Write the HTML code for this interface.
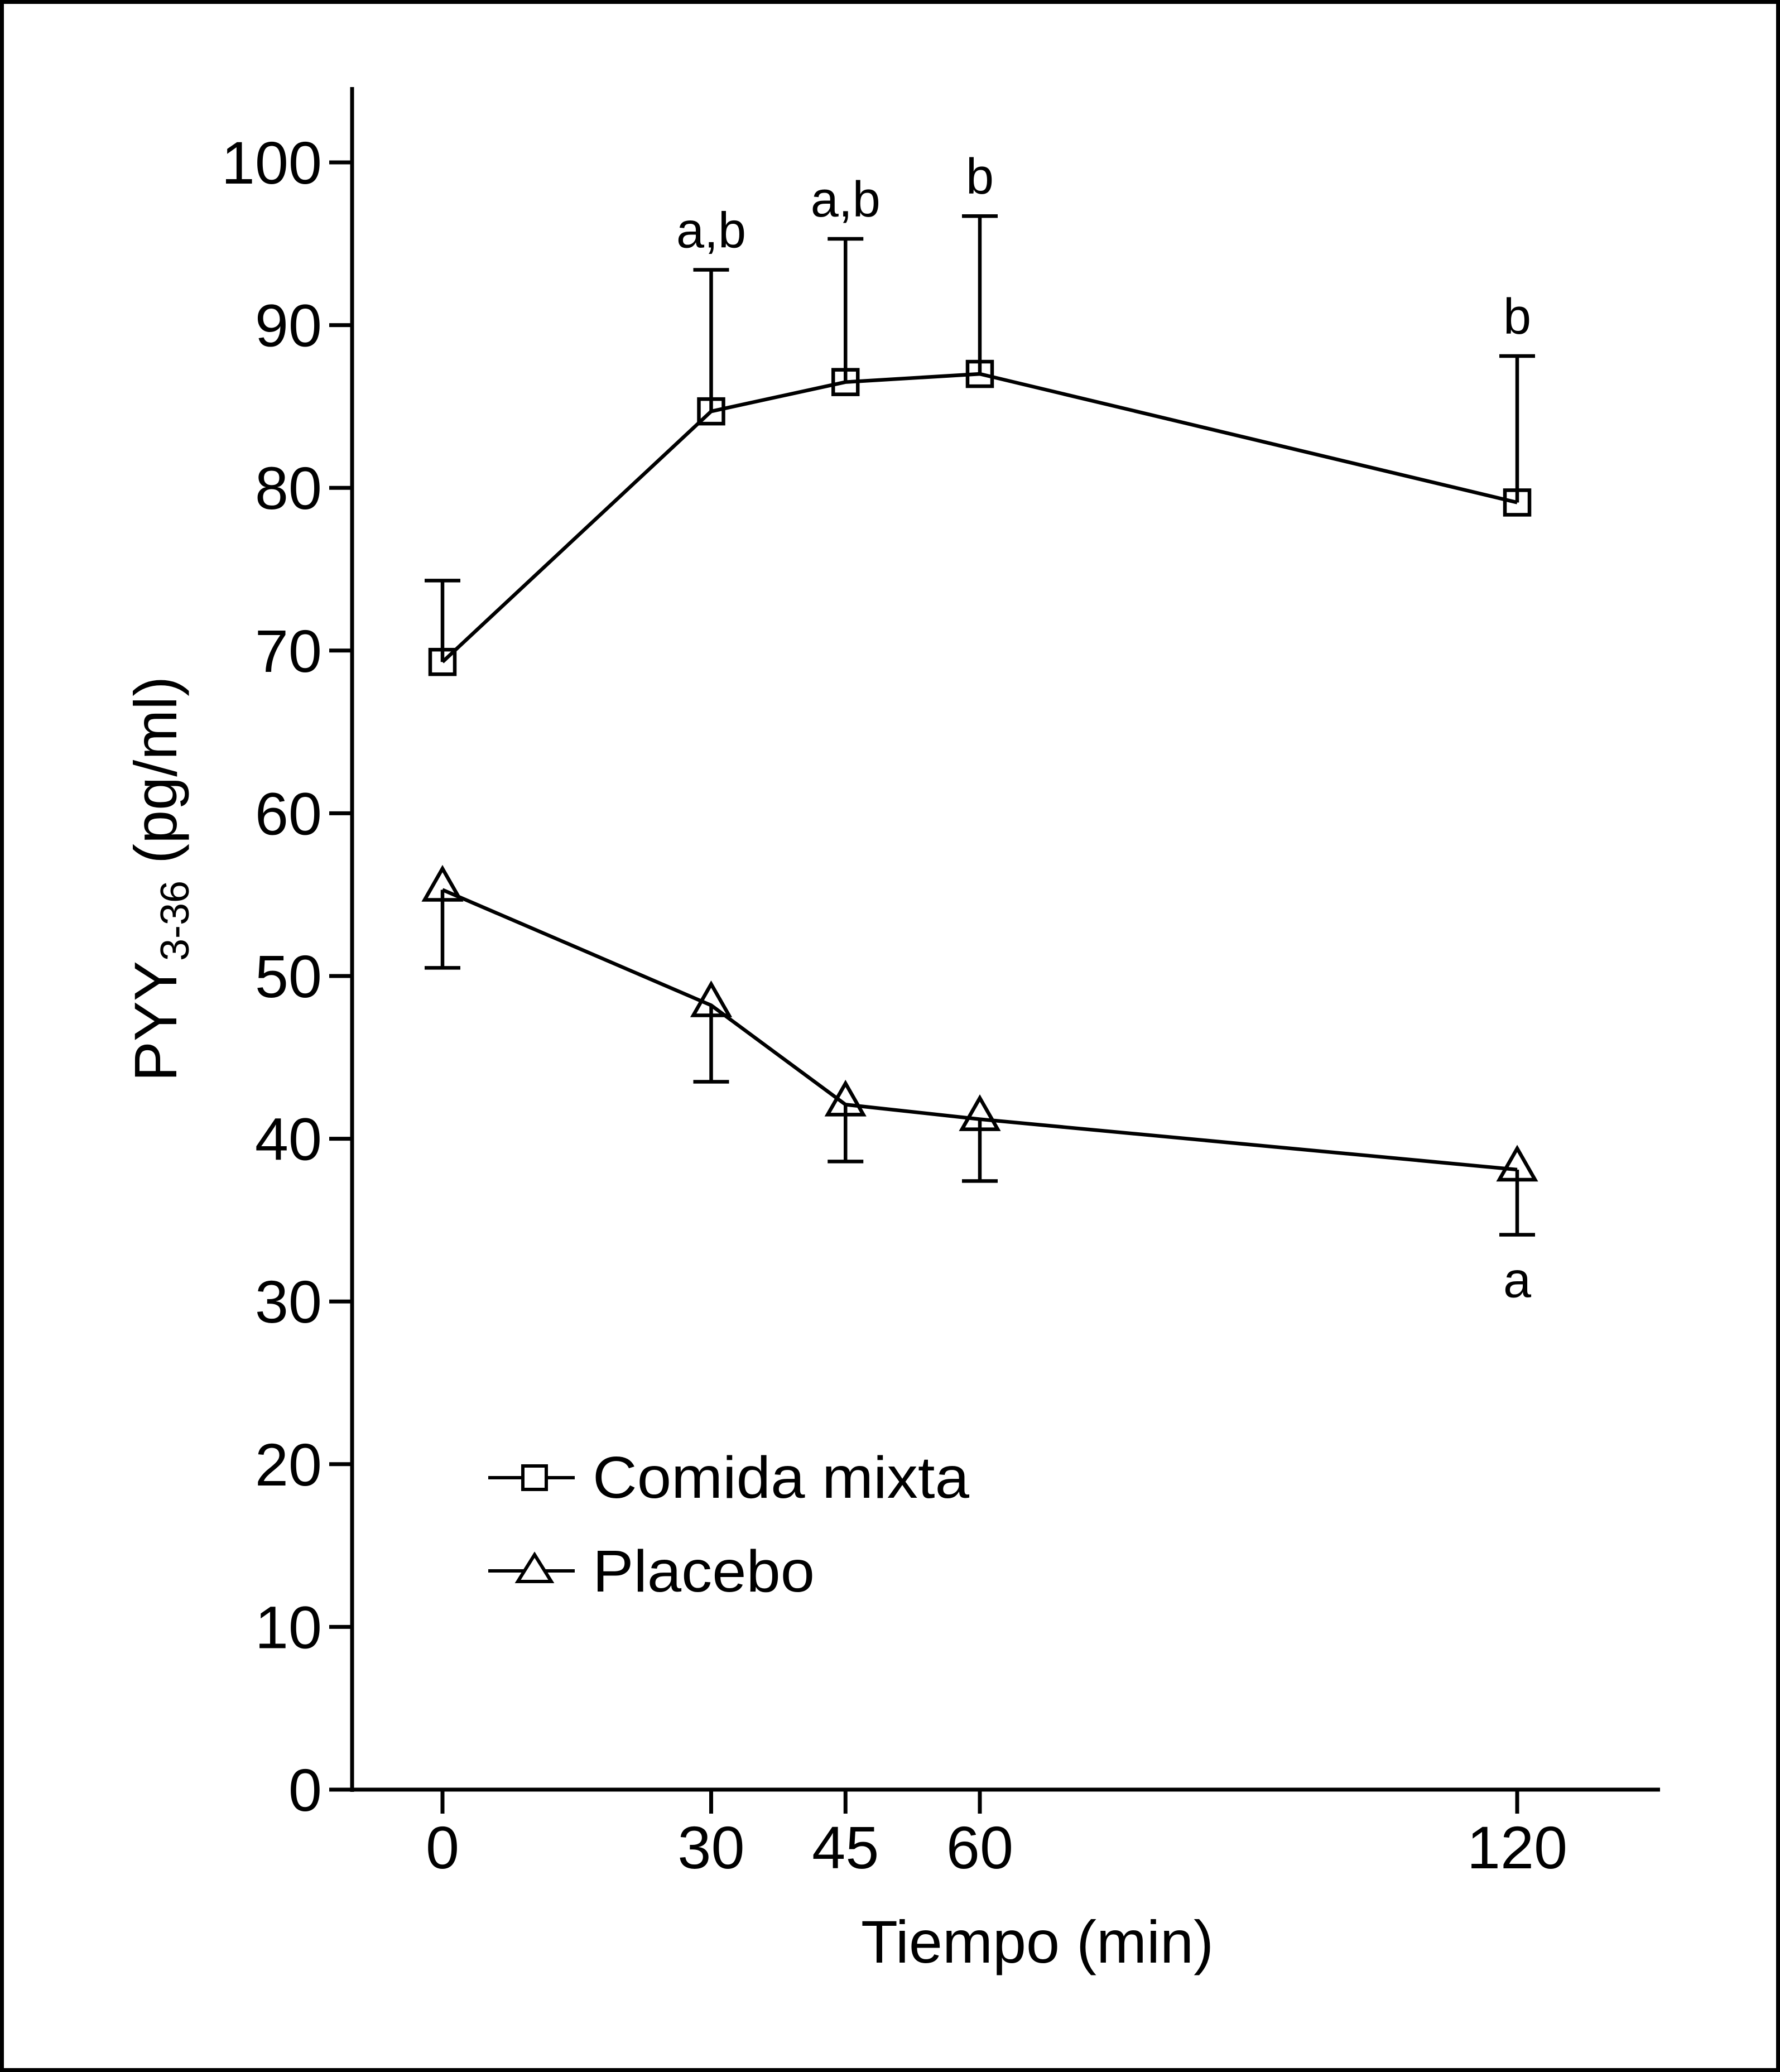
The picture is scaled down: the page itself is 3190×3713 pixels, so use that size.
<!DOCTYPE html>
<html><head><meta charset="utf-8"><style>
html,body{margin:0;padding:0;background:#fff;}
svg{display:block;font-family:"Liberation Sans",Arial,sans-serif;}
</style></head><body>
<svg id="chart" width="3190" height="3713" viewBox="0 0 3190 3713" xmlns="http://www.w3.org/2000/svg">
<rect x="3.5" y="3.5" width="3183" height="3706" fill="#fff" stroke="#000" stroke-width="7"/>
<g id="axes"></g>
<g id="series"></g>
<g id="legend">
  <g>
    <line x1="875" y1="2648" x2="1030" y2="2648" stroke="#000" stroke-width="6"/>
    <rect x="937" y="2627" width="42" height="42" fill="#fff" stroke="#000" stroke-width="6"/>
    <text x="1062" y="2684" font-size="106" textLength="675" lengthAdjust="spacingAndGlyphs">Comida mixta</text>
  </g>
  <g>
    <line x1="875" y1="2815" x2="1030" y2="2815" stroke="#000" stroke-width="6"/>
    <polygon points="958,2786 988,2834 928,2834" fill="#fff" stroke="#000" stroke-width="6"/>
    <text x="1062" y="2852" font-size="106" textLength="398" lengthAdjust="spacingAndGlyphs">Placebo</text>
  </g>
</g>
<text x="1859" y="3517" font-size="108" text-anchor="middle">Tiempo (min)</text>
<text transform="translate(316,1575) rotate(-90)" font-size="108" text-anchor="middle">PYY<tspan font-size="72" dy="22">3-36</tspan><tspan dy="-22"> (pg/ml)</tspan></text>
</svg>
<script>
const xCategories = [0, 30, 45, 60, 120];
const yTicks = [0, 10, 20, 30, 40, 50, 60, 70, 80, 90, 100];
const comidaValues = [69.3, 84.7, 86.5, 87.0, 79.1];
const comidaErrors = [5.0, 8.7, 8.8, 9.7, 9.0];
const placeboValues = [55.3, 48.2, 42.1, 41.2, 38.1];
const placeboErrors = [4.8, 4.7, 3.5, 3.8, 4.0];
const comidaLabels = ["", "a,b", "a,b", "b", "b"];
const placeboLabels = ["", "", "", "", "a"];

const NS = "http://www.w3.org/2000/svg";
function X(v){ return 793 + v * 16.05; }
function Y(v){ return 3207 - v * 29.16; }
function mk(tag, attrs, parent){
  const e = document.createElementNS(NS, tag);
  for (const k in attrs) e.setAttribute(k, attrs[k]);
  parent.appendChild(e);
  return e;
}
const axes = document.getElementById('axes');
const series = document.getElementById('series');

let yl = mk('line', {x1:631, y1:156, x2:631, y2:3211, stroke:'#000', 'stroke-width':7}, axes);


let xl = mk('line', {x1:628, y1:3207, x2:2975, y2:3207, stroke:'#000', 'stroke-width':7}, axes);



yTicks.forEach(t => {
  const tk = mk('line', {x1:590, y1:Y(t), x2:631, y2:Y(t), stroke:'#000', 'stroke-width':7}, axes);
  
  
  const tx = mk('text', {x:577, y:Y(t)+38, 'font-size':108, 'text-anchor':'end'}, axes);
  tx.textContent = t;
  
  
});
xCategories.forEach(c => {
  const tk = mk('line', {x1:X(c), y1:3207, x2:X(c), y2:3250, stroke:'#000', 'stroke-width':7}, axes);
  
  
  const tx = mk('text', {x:X(c), y:3348, 'font-size':108, 'text-anchor':'middle'}, axes);
  tx.textContent = c;
  
  
});

function drawSeries(vals, errs, labels, up, marker, name){
  const g = mk('g', {}, series);
  
  
  vals.forEach((v, i) => {
    const x = X(xCategories[i]);
    const e = up ? v + errs[i] : v - errs[i];
    const eb = mk('path', {d:`M${x},${Y(v)} V${Y(e)} M${x-32},${Y(e)} H${x+32}`, stroke:'#000', 'stroke-width':6.5, fill:'none'}, g);
    
    
    if (labels[i]) {
      const ly = up ? Y(e) - 40 : Y(e) + 112;
      const t = mk('text', {x:x, y:ly, 'font-size':90, 'text-anchor':'middle'}, g);
      t.textContent = labels[i];
      
      
    }
  });
  const pts = vals.map((v, i) => X(xCategories[i]) + ',' + Y(v)).join(' ');
  const pl = mk('polyline', {points:pts, fill:'none', stroke:'#000', 'stroke-width':6.5}, g);
  
  
  vals.forEach((v, i) => {
    const x = X(xCategories[i]), y = Y(v);
    let m;
    if (marker === 'square') {
      m = mk('rect', {x:x-22, y:y-22, width:44, height:44, fill:'none', stroke:'#000', 'stroke-width':6.5}, g);
    } else {
      m = mk('polygon', {points:`${x},${y-38} ${x+32},${y+18} ${x-32},${y+18}`, fill:'none', stroke:'#000', 'stroke-width':6.5}, g);
    }
    
    
  });
}
drawSeries(comidaValues, comidaErrors, comidaLabels, true, 'square', 'comida');
drawSeries(placeboValues, placeboErrors, placeboLabels, false, 'triangle', 'placebo');
</script>
</body></html>
